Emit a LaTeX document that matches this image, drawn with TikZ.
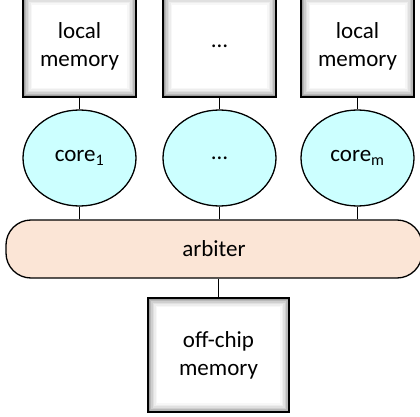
\documentclass[tikz,border=0pt]{standalone}
\usepackage{fontspec}
\setmainfont{Carlito}
\usetikzlibrary{shapes.geometric}

\definecolor{corefill}{HTML}{CCFFFF}
\definecolor{busfill}{HTML}{FBE5D6}

\tikzset{
  memglow/.style={path picture={
      \foreach \i/\g in {0/38,1.5/28,3/19,4.5/12,6/7,7.5/3,9/0}
        \fill[black!\g] ([shift={(\i pt,\i pt)}]path picture bounding box.south west)
          rectangle ([shift={(-\i pt,-\i pt)}]path picture bounding box.north east);
    }},
}

\begin{document}
\begin{tikzpicture}[x=1pt,y=-1pt,line width=1.3pt,
    font=\fontsize{23}{28}\selectfont]

  \useasboundingbox (0,0) rectangle (420,417);

  \begin{scope}[every node/.style={rectangle,draw,memglow,align=center,
      minimum width=113pt,minimum height=101pt,inner sep=0pt}]
    \node (mem1) at (79.5,46.5)  {local\\memory};
    \node (mem2) at (219.5,46.5) {…};
    \node (mem3) at (357.5,46.5) {local\\memory};
    \node[minimum width=141pt,minimum height=114pt] (offchip) at (218.5,355) {off-chip\\memory};
  \end{scope}

  \begin{scope}[every node/.style={ellipse,draw,fill=corefill,
      minimum width=113pt,minimum height=96pt,inner sep=0pt}]
    \node (core1) at (79.5,158)  {core\textsubscript{1}};
    \node (core2) at (219.5,158) {…};
    \node (core3) at (357.5,158) {core\textsubscript{m}};
  \end{scope}

  \node[draw,fill=busfill,rounded corners=25pt,minimum width=416pt,
    minimum height=58pt,inner sep=0pt] (arbiter) at (214,249) {arbiter};

  \begin{scope}[every edge/.style={draw}]
    \path (mem1) edge (core1);
    \path (mem2) edge (core2);
    \path (mem3) edge (core3);
    \path (core1) edge (core1 |- arbiter.north);
    \path (core2) edge (core2 |- arbiter.north);
    \path (core3) edge (core3 |- arbiter.north);
    \path (arbiter.south -| offchip) edge (offchip);
  \end{scope}

\end{tikzpicture}
\end{document}
